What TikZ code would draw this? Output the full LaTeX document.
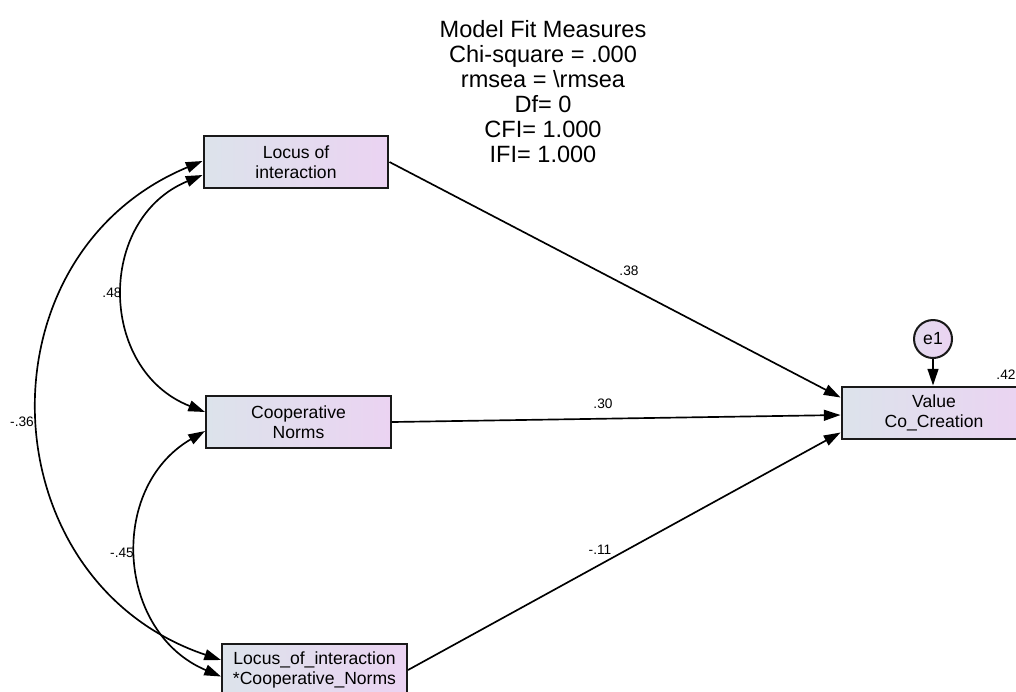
\documentclass[tikz,border=0pt]{standalone}
\usepackage{fontspec}
\setmainfont{Liberation Sans}
\usetikzlibrary{arrows.meta,calc}
\definecolor{boxleft}{HTML}{DCE3EB}
\definecolor{boxright}{HTML}{EBD3F2}
\begin{document}
\begin{tikzpicture}[x=0.02cm,y=-0.02cm,
  obs/.style={draw=black!90,line width=1.15pt,left color=boxleft,right color=boxright,
    minimum width=3.7cm,minimum height=1.04cm,inner sep=0pt,align=center,
    font=\fontsize{10}{11.3}\selectfont},
  err/.style={circle,draw=black!90,line width=1.15pt,left color=boxleft!50!boxright,
    right color=boxright,minimum size=0.76cm,inner sep=0pt,font=\fontsize{10}{11.3}\selectfont},
  tip/.tip={Triangle[length=9.5pt,width=6.2pt]},
  regpath/.style={line width=0.95pt,-tip},
  covpath/.style={line width=0.95pt,tip-tip},
  coef/.style={font=\fontsize{7.8}{9}\selectfont,inner sep=0pt}]
\useasboundingbox (0,0) rectangle (1016,691);
\clip (0,0) rectangle (1016,691);

% fit summary
\node[font=\fontsize{13.4}{14.2}\selectfont,align=center] (fit) at (543,91.5)
  {Model Fit Measures\\Chi-square = .000\\rmsea = \textbackslash rmsea\\Df= 0\\CFI= 1.000\\IFI= 1.000};

% observed variables
\node[obs] (loc) at (296,162) {Locus of\\interaction};
\node[obs] (coop) at (298.5,422) {Cooperative\\Norms};
\node[obs] (inter) at (314.5,670) {Locus\_of\_interaction\\*Cooperative\_Norms};
\node[obs] (vcc) at (934,412.5) {Value\\Co\_Creation};
\node[err] (e1) at (933,339) {e1};

% regression paths
\draw[regpath] (loc.east) -- ($(vcc.west)+(0,-15)$);
\draw[regpath] (coop.east) -- ($(vcc.west)+(0,2.5)$);
\draw[regpath] (inter.east) -- ($(vcc.west)+(0,20)$);
\draw[regpath] (e1.south) -- (e1.south |- vcc.north);

% covariances
\draw[covpath] ($(loc.west)+(0,13)$) .. controls +(-106.3,44) and +(-107,-42) .. ($(coop.west)+(0,-10)$);
\draw[covpath] ($(loc.west)+(0,-1)$) .. controls +(-227.5,94.7) and +(-233.7,-78.6) .. ($(inter.west)+(0,-10)$);
\draw[covpath] ($(coop.west)+(0,9)$) .. controls +(-97.7,56.9) and +(-104.3,-43.9) .. ($(inter.west)+(0,6.5)$);

% estimates
\node[coef] (c48) at (112,293) {.48};
\node[coef] (c36) at (22,422) {-.36};
\node[coef] (c45) at (122,553) {-.45};
\node[coef] (c38) at (629,271) {.38};
\node[coef] (c30) at (603,404) {.30};
\node[coef] (c11) at (600,550) {-.11};
\node[coef] (c42) at (1006,375) {.42};
\end{tikzpicture}
\end{document}
